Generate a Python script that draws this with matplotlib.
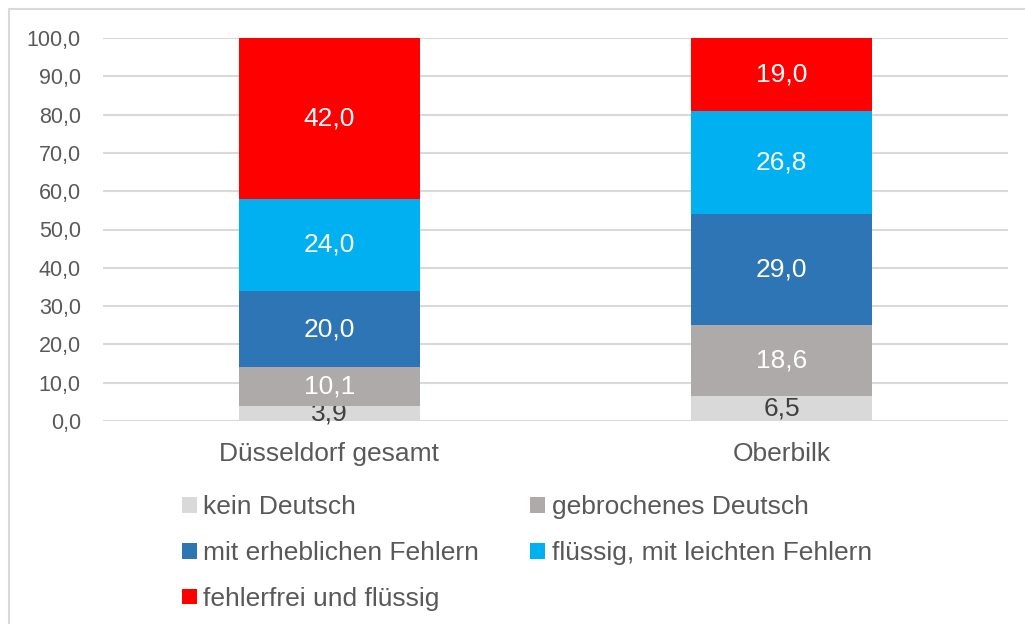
import matplotlib.pyplot as plt
from matplotlib.patches import Rectangle
import numpy as np

plt.rcParams['font.family'] = ['Liberation Sans', 'DejaVu Sans']

# Daten
kategorien = ["Düsseldorf gesamt", "Oberbilk"]
stufen = ["kein Deutsch", "gebrochenes Deutsch", "mit erheblichen Fehlern",
          "flüssig, mit leichten Fehlern", "fehlerfrei und flüssig"]
kein_deutsch = [3.9, 6.5]
gebrochen = [10.1, 18.6]
erheblich = [20.0, 29.0]
leicht = [24.0, 26.8]
fehlerfrei = [42.0, 19.0]
farben = ["#D9D9D9", "#AEAAAA", "#2E75B6", "#00B0F0", "#FF0000"]
textfarben = ["#404040", "white", "white", "white", "white"]

reihen = [kein_deutsch, gebrochen, erheblich, leicht, fehlerfrei]
grau = "#595959"

fig = plt.figure(figsize=(10.25, 6.24), dpi=100)
ax = fig.add_axes([103 / 1025, 1 - 421 / 624, 905 / 1025, 383 / 624])

x = np.arange(len(kategorien))
unten = np.zeros(len(kategorien))
for werte, name, farbe, tf in zip(reihen, stufen, farben, textfarben):
    balken = ax.bar(x, werte, 0.4, bottom=unten, color=farbe, label=name, zorder=3)
    labels = [f"{v:.1f}".replace(".", ",") for v in werte]
    ax.bar_label(balken, labels=labels, label_type="center", color=tf, fontsize=19)
    unten += np.array(werte)

ax.set_xlim(-0.5, 1.5)
ax.set_ylim(0, 100)
ax.set_yticks(np.arange(0, 101, 10))
ax.set_yticklabels([f"{v:.1f}".replace(".", ",") for v in np.arange(0, 101, 10)])
ax.set_xticks(x)
ax.set_xticklabels(kategorien, fontsize=19, color=grau)
ax.tick_params(axis="y", labelsize=15.5, colors=grau, length=0, pad=16)
ax.tick_params(axis="x", length=0, pad=15)
ax.grid(axis="y", color="#D9D9D9", linewidth=1.5, zorder=0)
for s in ax.spines.values():
    s.set_visible(False)

# Legende zeilenweise wie im Original
h, l = ax.get_legend_handles_labels()
reihenfolge = [0, 2, 4, 1, 3]
leg = ax.legend([h[i] for i in reihenfolge], [l[i] for i in reihenfolge],
                loc="upper left", bbox_to_anchor=(182 / 1025, 1 - 495 / 624),
                bbox_transform=fig.transFigure, ncol=2, frameon=False, fontsize=19,
                handlelength=0.55, handleheight=0.55, handletextpad=0.25,
                columnspacing=1.95, labelspacing=0.83, labelcolor=grau,
                borderaxespad=0, borderpad=0)

# Rahmen des Diagramms
fig.patches.append(Rectangle((8.5 / 1025, -0.1), 1.2, 1.1 - 8.5 / 624,
                             transform=fig.transFigure, fill=False,
                             edgecolor="#D9D9D9", linewidth=1.5))

fig.savefig("out.png", dpi=100)
